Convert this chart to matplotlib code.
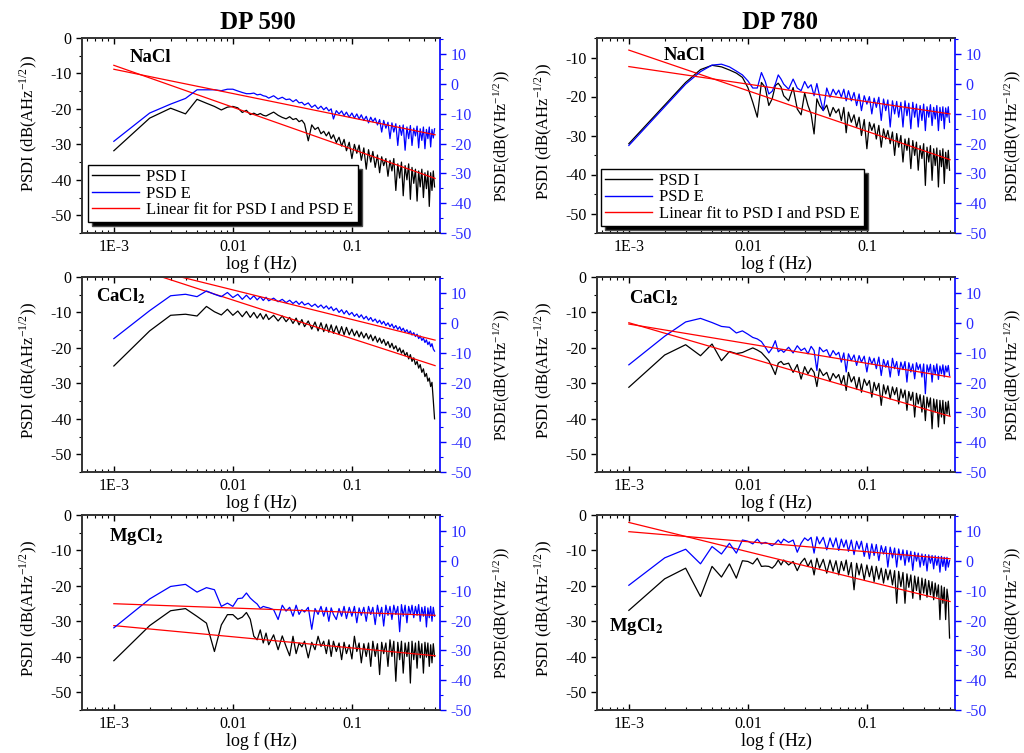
import matplotlib
matplotlib.use('Agg')
import matplotlib.pyplot as plt
from matplotlib.lines import Line2D
from matplotlib.ticker import FixedLocator, NullFormatter, LogLocator, MultipleLocator

plt.rcParams['font.family'] = ['Liberation Serif', 'DejaVu Serif']
plt.rcParams['mathtext.fontset'] = 'stix'
plt.rcParams['axes.unicode_minus'] = False

# frequency grid (Hz), same for all spectra
freq = [0.001, 0.002, 0.003, 0.004, 0.005, 0.006, 0.007, 0.008, 0.009, 0.010,
        0.011, 0.012, 0.013, 0.014, 0.015, 0.016, 0.017, 0.018, 0.019, 0.020,
        0.022, 0.024, 0.026, 0.028, 0.030, 0.032, 0.034, 0.036, 0.038, 0.040,
        0.043, 0.046, 0.049, 0.052, 0.055, 0.058, 0.061, 0.064, 0.067, 0.070,
        0.074, 0.078, 0.082, 0.086, 0.090, 0.095, 0.100, 0.105, 0.110, 0.115,
        0.120, 0.126, 0.132, 0.138, 0.144, 0.150, 0.157, 0.164, 0.171, 0.178,
        0.185, 0.193, 0.201, 0.209, 0.217, 0.225, 0.234, 0.243, 0.252, 0.261,
        0.270, 0.280, 0.290, 0.300, 0.310, 0.320, 0.331, 0.342, 0.353, 0.364,
        0.375, 0.387, 0.399, 0.411, 0.423, 0.435, 0.447, 0.459, 0.471, 0.483,
        0.495]
fit_f = [0.001, 0.5]

# ---- DP 590, NaCl
nacl590_I = [-31.8, -22.6, -19.8, -21.4, -17.3, -18.4, -19.3, -20.3, -19.5, -19.3,
             -19.7, -21.0, -20.4, -21.6, -21.2, -21.7, -21.3, -21.8, -22.0, -21.6,
             -20.9, -21.8, -22.4, -22.8, -22.2, -23.0, -22.7, -23.6, -23.2, -24.2,
             -29.0, -24.5, -25.8, -25.2, -27.0, -26.3, -27.6, -26.5, -28.4, -27.3,
             -29.5, -28.0, -30.5, -28.6, -31.8, -29.4, -34.0, -30.0, -32.5, -30.2,
             -34.5, -31.0, -37.0, -31.5, -35.0, -32.0, -36.5, -33.0, -38.0, -33.5,
             -36.0, -34.0, -39.0, -34.5, -37.5, -34.0, -43.0, -35.5, -39.5, -35.0,
             -44.5, -36.0, -40.0, -35.5, -45.5, -36.5, -41.0, -37.0, -46.0, -37.5,
             -42.0, -37.0, -45.0, -38.0, -42.5, -37.5, -47.5, -38.0, -43.0, -37.5,
             -42.0]
nacl590_E = [-19.2, -9.7, -6.7, -4.8, -1.9, -1.9, -1.9, -2.2, -1.7, -1.7,
             -2.3, -2.8, -3.2, -3.2, -3.0, -3.6, -3.4, -3.9, -4.1, -4.7,
             -3.9, -5.0, -4.4, -5.2, -5.0, -5.9, -5.2, -6.3, -6.1, -7.0,
             -6.3, -7.8, -7.0, -8.3, -7.4, -8.6, -7.8, -9.0, -8.3, -11.7,
             -8.9, -10.0, -9.0, -10.6, -9.4, -11.1, -9.7, -11.4, -10.0, -11.7,
             -10.3, -12.2, -10.8, -13.0, -11.1, -12.6, -11.4, -13.7, -11.9, -16.1,
             -12.2, -14.8, -12.8, -18.3, -13.0, -16.1, -13.3, -20.6, -13.9, -17.2,
             -13.7, -22.2, -14.4, -18.3, -13.9, -20.6, -14.8, -17.4, -14.1, -21.4,
             -15.0, -18.9, -14.4, -21.7, -15.2, -18.3, -14.4, -21.1, -15.2, -18.1,
             -15.0]
nacl590_fitI = [-7.7, -39.6]
nacl590_fitE = [5.0, -17.0]

# ---- DP 780, NaCl
nacl780_I = [-32.1, -22.2, -16.4, -13.1, -12.0, -12.4, -13.2, -14.0, -15.1, -17.7,
             -21.5, -25.3, -16.4, -17.7, -22.3, -20.6, -17.2, -16.6, -17.6, -19.8,
             -21.1, -17.7, -23.2, -24.7, -19.1, -22.3, -24.5, -29.6, -20.6, -22.3,
             -23.6, -22.2, -25.1, -22.8, -24.2, -23.2, -26.2, -22.8, -29.3, -24.0,
             -26.6, -24.7, -27.9, -25.3, -30.0, -25.9, -33.4, -26.6, -28.7, -27.0,
             -30.9, -27.4, -33.0, -28.3, -30.9, -28.7, -32.1, -29.1, -35.1, -29.5,
             -33.0, -30.0, -36.8, -30.9, -33.8, -30.7, -38.5, -31.3, -35.1, -31.7,
             -38.9, -32.6, -35.9, -32.1, -42.8, -33.0, -36.8, -32.6, -41.5, -33.4,
             -37.7, -33.2, -43.2, -33.8, -38.0, -33.4, -42.3, -34.3, -38.5, -33.8,
             -38.9]
nacl780_E = [-20.6, -7.6, 0.0, 4.2, 6.4, 6.7, 5.8, 4.4, 3.1, 1.1,
             -1.3, -1.3, 3.9, 0.9, -3.3, -2.4, 0.0, 3.1, 1.7, 0.0,
             -1.7, 1.7, -1.3, -2.2, 0.9, -1.3, -0.2, -3.9, 0.2, -3.9,
             -8.9, -1.3, -4.4, -1.7, -3.6, -2.0, -4.4, -1.7, -5.6, -2.2,
             -5.6, -2.8, -7.2, -3.3, -8.9, -3.9, -6.7, -4.2, -10.0, -4.7,
             -7.8, -4.4, -12.2, -5.0, -8.9, -5.3, -14.4, -5.6, -10.0, -5.8,
             -11.1, -6.1, -14.4, -5.6, -10.6, -6.4, -15.0, -6.1, -11.1, -6.7,
             -14.4, -7.2, -12.2, -6.7, -15.6, -7.6, -11.1, -6.9, -13.9, -7.8,
             -11.7, -7.2, -15.6, -7.8, -12.2, -7.6, -15.0, -8.0, -11.1, -7.6,
             -12.8]
nacl780_fitI = [-8.1, -36.2]
nacl780_fitE = [5.9, -10.0]

# ---- DP 590, CaCl2
cacl590_I = [-25.1, -15.2, -10.8, -10.5, -11.0, -8.3, -9.8, -10.7, -9.1, -10.8,
             -9.6, -11.2, -9.7, -11.4, -10.0, -11.6, -10.3, -11.9, -10.5, -12.0,
             -10.8, -12.4, -11.0, -12.6, -11.4, -13.1, -11.6, -13.5, -12.0, -14.0,
             -12.4, -14.7, -12.7, -15.2, -12.9, -15.4, -13.3, -15.6, -13.5, -15.9,
             -13.8, -16.1, -14.0, -16.3, -14.2, -16.3, -14.7, -16.6, -15.2, -16.9,
             -15.5, -17.2, -15.9, -17.5, -16.3, -18.0, -16.7, -18.4, -17.2, -18.7,
             -17.6, -19.3, -18.2, -19.9, -18.7, -20.3, -19.4, -21.0, -20.0, -21.5,
             -20.6, -22.2, -21.3, -23.1, -21.9, -23.8, -22.8, -24.7, -23.8, -25.7,
             -24.7, -26.9, -25.9, -28.1, -27.2, -29.4, -28.5, -30.9, -29.7, -34.8,
             -40.0]
cacl590_E = [-5.2, 4.2, 9.2, 9.7, 8.9, 10.8, 9.7, 8.9, 10.3, 8.6,
             9.7, 8.0, 9.4, 8.0, 9.2, 7.8, 8.9, 7.6, 8.7, 7.5,
             8.4, 7.2, 8.0, 6.9, 7.7, 6.6, 7.4, 6.3, 7.2, 6.1,
             6.7, 5.6, 6.4, 5.3, 6.1, 5.0, 5.8, 4.7, 5.5, 4.2,
             5.0, 3.6, 4.5, 3.1, 4.2, 2.8, 3.6, 2.3, 3.1, 1.9,
             2.8, 1.4, 2.3, 1.0, 1.9, 0.6, 1.4, 0.1, 1.0, -0.3,
             0.6, -0.8, 0.1, -1.2, -0.3, -1.7, -0.8, -2.1, -1.2, -2.5,
             -1.7, -3.0, -2.2, -3.5, -2.6, -4.0, -3.2, -4.5, -3.7, -5.2,
             -4.3, -5.8, -5.0, -6.5, -5.6, -7.2, -6.3, -7.9, -6.9, -8.7,
             -9.4]
cacl590_fitI = [4.4, -25.0]
cacl590_fitE = [21.1, -5.7]

# ---- DP 780, CaCl2
cacl780_I = [-31.1, -22.0, -19.1, -22.2, -18.9, -23.6, -21.0, -21.6, -21.3, -20.6,
             -20.0, -20.6, -21.3, -22.5, -23.6, -25.5, -27.5, -24.3, -23.8, -24.7,
             -24.3, -26.9, -24.7, -28.8, -25.3, -27.3, -25.7, -26.9, -30.9, -25.9,
             -27.8, -26.9, -29.4, -27.2, -28.5, -27.5, -30.1, -27.8, -32.0, -26.9,
             -29.6, -28.1, -31.6, -28.3, -32.5, -28.8, -30.6, -29.2, -33.9, -29.7,
             -32.0, -30.0, -36.2, -30.4, -33.0, -30.7, -34.4, -31.0, -33.2, -31.2,
             -35.8, -31.6, -34.1, -31.9, -37.6, -32.3, -34.8, -32.5, -39.5, -32.8,
             -35.8, -33.2, -38.1, -33.5, -40.5, -33.9, -36.7, -34.1, -42.8, -34.4,
             -38.1, -34.6, -42.3, -34.8, -39.5, -34.8, -41.4, -35.3, -38.6, -35.0,
             -39.0]
cacl780_E = [-14.0, -4.4, 0.4, 1.6, 0.2, -1.1, -1.4, -3.3, -2.6, -3.7,
             -4.8, -5.3, -6.2, -8.1, -10.0, -8.4, -5.9, -9.6, -8.9, -9.8,
             -8.1, -10.0, -7.6, -9.2, -8.4, -10.3, -7.8, -9.2, -15.9, -8.1,
             -9.6, -8.9, -11.4, -9.2, -10.7, -9.8, -13.1, -10.0, -16.4, -10.3,
             -12.6, -10.7, -14.2, -10.9, -13.1, -11.1, -16.4, -11.4, -13.7, -11.8,
             -15.3, -11.4, -17.6, -12.2, -14.8, -12.6, -18.1, -11.8, -15.3, -12.9,
             -17.6, -13.1, -15.6, -12.9, -19.8, -13.3, -16.4, -13.7, -18.7, -13.3,
             -15.6, -13.8, -18.1, -13.7, -23.7, -14.0, -16.4, -13.8, -19.8, -14.2,
             -17.1, -13.7, -18.9, -14.4, -17.0, -14.0, -18.1, -14.4, -16.4, -14.2,
             -17.6]
cacl780_fitI = [-12.9, -39.3]
cacl780_fitE = [-0.3, -18.1]

# ---- DP 590, MgCl2
mgcl590_I = [-41.1, -31.2, -27.0, -26.4, -28.6, -30.5, -38.5, -31.0, -28.1, -28.1,
             -29.4, -28.8, -27.5, -29.4, -34.2, -35.2, -32.4, -36.1, -33.3, -36.6,
             -33.8, -38.0, -34.1, -37.1, -39.7, -34.2, -39.1, -36.1, -37.2, -35.6,
             -40.3, -35.9, -38.0, -34.2, -37.1, -35.6, -39.1, -35.2, -39.9, -35.6,
             -38.5, -36.1, -40.8, -35.9, -39.1, -36.6, -40.6, -34.2, -38.5, -36.1,
             -41.7, -36.3, -39.9, -36.1, -42.7, -35.6, -39.9, -36.3, -45.0, -35.9,
             -39.1, -36.1, -42.7, -35.2, -39.9, -35.6, -46.9, -35.9, -40.8, -35.6,
             -44.6, -36.1, -39.9, -35.9, -47.4, -35.6, -40.8, -36.1, -43.2, -35.6,
             -40.3, -36.3, -44.6, -35.9, -40.1, -36.1, -42.7, -36.6, -41.7, -36.3,
             -39.9]
mgcl590_E = [-22.4, -12.7, -8.5, -7.8, -10.4, -8.9, -9.6, -15.2, -14.1, -15.2,
             -12.6, -12.4, -10.7, -12.4, -13.5, -14.4, -15.9, -15.2, -15.5, -15.7,
             -16.3, -19.6, -14.8, -16.8, -15.5, -18.5, -14.8, -17.9, -16.3, -17.1,
             -15.5, -22.9, -15.9, -17.9, -15.2, -18.5, -15.5, -20.2, -15.7, -17.9,
             -19.6, -15.9, -18.5, -15.2, -19.3, -15.5, -18.5, -15.2, -20.7, -15.7,
             -18.2, -15.5, -20.2, -15.2, -17.9, -15.5, -21.3, -14.8, -18.5, -15.5,
             -21.8, -14.8, -18.2, -15.2, -19.6, -14.8, -17.9, -15.2, -23.7, -14.6,
             -18.5, -14.8, -20.7, -15.2, -17.9, -14.8, -19.0, -15.2, -18.2, -14.6,
             -20.2, -15.5, -18.5, -15.2, -22.1, -15.7, -19.0, -15.2, -20.2, -15.5,
             -18.5]
mgcl590_fitI = [-31.2, -39.7]
mgcl590_fitE = [-14.3, -18.2]

# ---- DP 780, MgCl2
mgcl780_I = [-26.9, -18.0, -15.0, -23.0, -14.5, -17.5, -13.8, -17.8, -12.9, -13.1,
             -13.8, -12.2, -14.5, -14.4, -14.5, -15.0, -14.1, -12.7, -14.1, -12.7,
             -14.1, -13.1, -15.7, -13.4, -12.2, -14.5, -12.7, -16.9, -12.2, -15.0,
             -12.5, -16.4, -12.7, -15.9, -12.9, -16.9, -13.1, -15.7, -12.7, -16.9,
             -13.4, -21.1, -13.6, -16.9, -13.8, -18.3, -14.1, -17.4, -14.4, -18.8,
             -14.5, -18.1, -15.0, -19.2, -15.3, -18.3, -15.5, -19.7, -15.7, -24.9,
             -15.9, -20.2, -16.2, -24.9, -16.6, -20.4, -16.9, -23.5, -17.2, -21.3,
             -17.5, -23.9, -17.8, -22.0, -18.1, -23.2, -18.5, -22.5, -18.8, -23.9,
             -19.2, -23.0, -19.7, -29.5, -20.0, -24.9, -20.4, -29.5, -20.9, -23.9,
             -34.7]
mgcl780_E = [-8.1, 1.1, 4.0, -0.9, 4.9, 2.4, 6.0, 2.7, 7.1, 6.7,
             5.8, 7.4, 5.8, 6.3, 5.8, 5.2, 6.0, 7.1, 6.0, 7.4,
             6.3, 7.1, 3.0, 6.0, 7.8, 6.9, 8.0, 2.7, 8.2, 5.8,
             8.0, 3.8, 7.8, 4.7, 7.8, 3.6, 7.4, 4.7, 7.1, 3.3,
             7.1, 2.2, 6.7, 4.1, 6.7, 1.6, 6.0, 0.8, 5.8, 1.9,
             5.6, 0.2, 5.2, 2.4, 4.9, -2.0, 4.7, 1.1, 4.4, -2.0,
             4.1, 0.4, 3.8, -1.4, 3.6, -0.3, 3.3, -3.1, 3.0, 0.0,
             2.7, -2.0, 2.4, -1.4, 2.2, -3.3, 2.1, -0.7, 1.9, -2.6,
             1.8, -1.4, 1.6, -3.7, 1.6, -1.8, 1.3, -3.1, 1.3, -2.0,
             0.2]
mgcl780_fitI = [-2.1, -24.4]
mgcl780_fitE = [9.9, 0.8]

xtick_vals = [0.001, 0.01, 0.1]
xtick_labels = ['1E-3', '0.01', '0.1']
col_titles = ['DP 590', 'DP 780']
fit_labels = ['Linear fit for PSD I and PSD E', 'Linear fit to PSD I and PSD E']

BLUE = '#0000ff'
TBLUE = '#2a2aff'

panels = [
    # row, col, I, E, fitI, fitE, salt, label pos, left ylim
    (0, 0, nacl590_I, nacl590_E, nacl590_fitI, nacl590_fitE, 'NaCl', (0.19, 0.90), (-55, 0)),
    (0, 1, nacl780_I, nacl780_E, nacl780_fitI, nacl780_fitE, 'NaCl', (0.245, 0.91), (-55, -5)),
    (1, 0, cacl590_I, cacl590_E, cacl590_fitI, cacl590_fitE, r'CaCl$_{\mathbf{2}}$', (0.11, 0.90), (-55, 0)),
    (1, 1, cacl780_I, cacl780_E, cacl780_fitI, cacl780_fitE, r'CaCl$_{\mathbf{2}}$', (0.16, 0.89), (-55, 0)),
    (2, 0, mgcl590_I, mgcl590_E, mgcl590_fitI, mgcl590_fitE, r'MgCl$_{\mathbf{2}}$', (0.15, 0.89), (-55, 0)),
    (2, 1, mgcl780_I, mgcl780_E, mgcl780_fitI, mgcl780_fitE, r'MgCl$_{\mathbf{2}}$', (0.11, 0.43), (-55, 0)),
]

col_x = [82 / 1024, 597 / 1024]
row_y = [(753 - 233) / 753, (753 - 472) / 753, (753 - 710) / 753]
w = 358 / 1024
h = 195 / 753

fig = plt.figure(figsize=(10.24, 7.53), dpi=100)

for row, col, psd_i, psd_e, fit_i, fit_e, salt, lpos, ylim in panels:
    ax = fig.add_axes([col_x[col], row_y[row], w, h])
    ax2 = ax.twinx()

    ax.plot(freq, psd_i, color='black', lw=0.9)
    ax.plot(fit_f, fit_i, color='#ff0000', lw=0.9)
    ax2.plot(freq, psd_e, color=BLUE, lw=0.9)
    ax2.plot(fit_f, fit_e, color='#ff0000', lw=0.9)

    ax.set_xscale('log')
    ax.set_xlim(5.4e-4, 0.55)
    ax.set_ylim(*ylim)
    ax2.set_ylim(-50, 15.5)

    ax.xaxis.set_major_locator(FixedLocator(xtick_vals))
    ax.set_xticklabels(xtick_labels)
    ax.xaxis.set_minor_locator(LogLocator(base=10, subs=range(2, 10)))
    ax.xaxis.set_minor_formatter(NullFormatter())
    ax.yaxis.set_major_locator(MultipleLocator(10))
    ax.yaxis.set_minor_locator(MultipleLocator(5))
    ax2.yaxis.set_major_locator(MultipleLocator(10))
    ax2.yaxis.set_minor_locator(MultipleLocator(5))

    ax.tick_params(axis='x', which='both', direction='in', top=True, labelsize=11.5, pad=4)
    ax.tick_params(axis='x', which='major', length=4, width=1)
    ax.tick_params(axis='x', which='minor', length=2.5, width=0.8)
    ax.tick_params(axis='y', which='both', direction='out', right=False, labelsize=11.5)
    ax.tick_params(axis='y', which='major', length=4, width=1)
    ax.tick_params(axis='y', which='minor', length=2.5, width=0.8)
    ax2.tick_params(axis='y', which='both', direction='out', colors=BLUE, labelcolor=TBLUE, labelsize=11.5)
    ax2.tick_params(axis='y', which='major', length=4, width=1)
    ax2.tick_params(axis='y', which='minor', length=2.5, width=0.8)

    for s in ['left', 'top', 'bottom']:
        ax.spines[s].set_linewidth(1.2)
        ax.spines[s].set_color('#333333')
        ax2.spines[s].set_linewidth(1.2)
        ax2.spines[s].set_color('#333333')
    ax2.spines['right'].set_color(BLUE)
    ax2.spines['right'].set_linewidth(1.2)
    ax.spines['right'].set_visible(False)

    ax.set_xlabel('log f (Hz)', fontsize=13)
    ax.xaxis.set_label_coords(0.5, -0.115)
    ax.set_ylabel(r'PSDI (dB(AHz$^{\mathregular{-1/2}}$))', fontsize=12)
    ax.yaxis.set_label_coords(-0.12, 0.56 if row == 0 and col == 0 else 0.52)
    ax2.set_ylabel(r'PSDE(dB(VHz$^{\mathregular{-1/2}}$))', fontsize=11.5, rotation=90)
    ax2.yaxis.set_label_coords(1.145 if col == 0 else 1.133, 0.5)

    ax2.text(lpos[0], lpos[1], salt, transform=ax.transAxes, ha='center', va='center',
             fontsize=13.5, fontweight='bold')

    if row == 0:
        handles = [Line2D([], [], color='black', lw=1),
                   Line2D([], [], color=BLUE, lw=1),
                   Line2D([], [], color='#ff0000', lw=1)]
        anchor = (0.017, 0.056) if col == 0 else (0.011, 0.036)
        leg = ax2.legend(handles, ['PSD I', 'PSD E', fit_labels[col]], loc='lower left',
                         bbox_to_anchor=anchor, borderaxespad=0, fontsize=12,
                         labelspacing=0.02, handlelength=2.8, handletextpad=0.45,
                         borderpad=0.25, fancybox=False, framealpha=1,
                         shadow={'ox': 3, 'oy': -3, 'facecolor': 'black', 'alpha': 1})
        leg.get_frame().set_edgecolor('black')
        leg.get_frame().set_linewidth(1.0)

fig.text(0.252, 0.970, col_titles[0], ha='center', va='center', fontsize=18, fontweight='bold')
fig.text(0.762, 0.970, col_titles[1], ha='center', va='center', fontsize=18, fontweight='bold')

fig.savefig('out.png', dpi=100)
